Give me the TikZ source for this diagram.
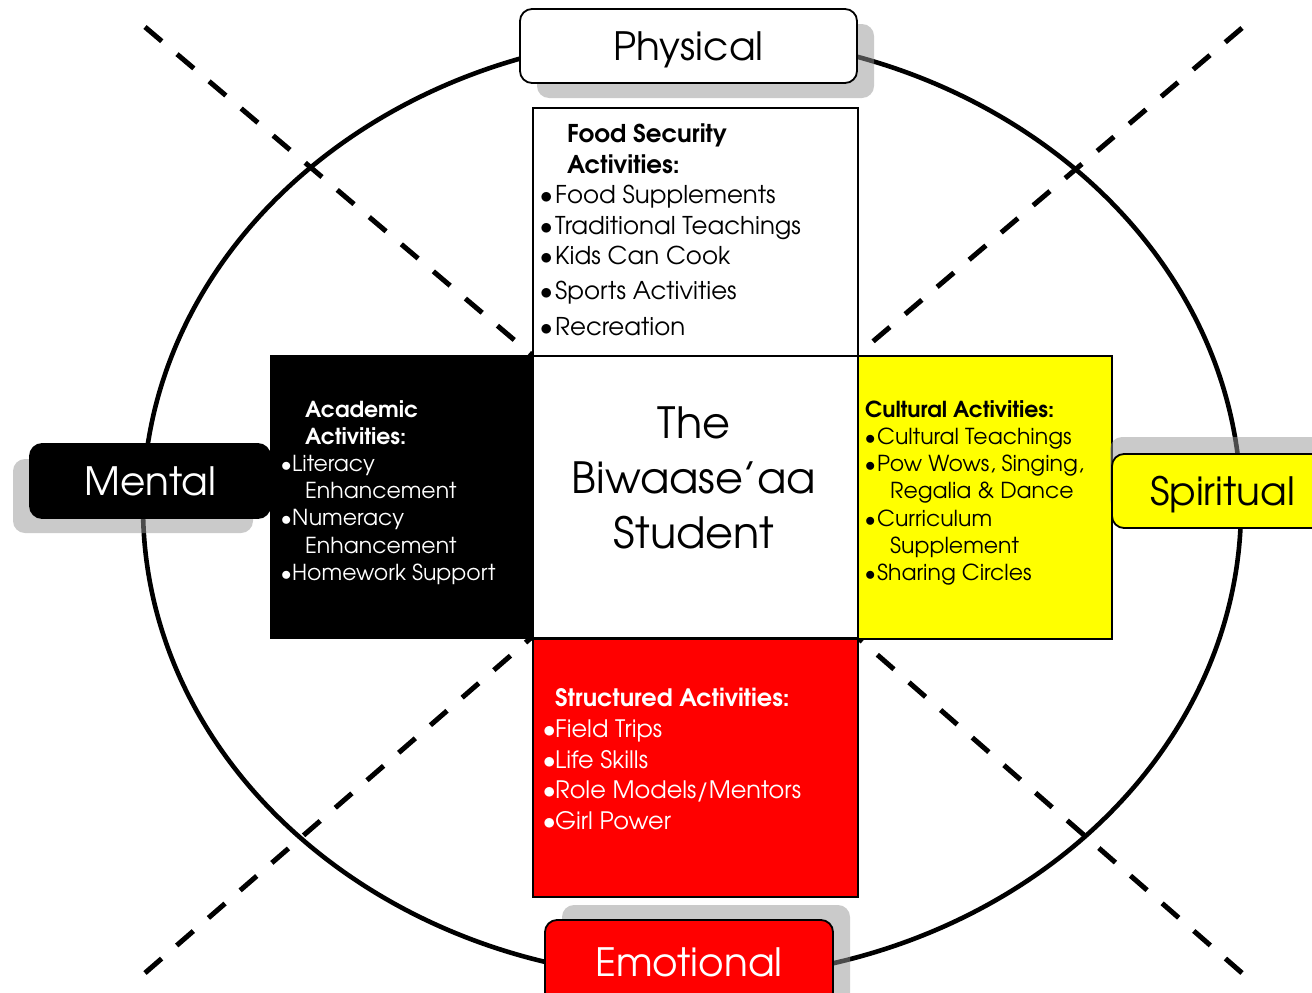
\documentclass[tikz,border=0pt]{standalone}
\usepackage{fontspec}
\setmainfont{texgyreadventor}[Extension=.otf, UprightFont=*-regular, BoldFont=*-bold, ItalicFont=*-italic, BoldItalicFont=*-bolditalic]
\definecolor{myyellow}{RGB}{255,255,0}
\definecolor{myred}{RGB}{255,0,0}
\definecolor{shadowgray}{RGB}{150,150,150}
\tikzset{
  ring/.style={line width=4.6pt},
  dline/.style={line width=5pt, dash pattern=on 22pt off 20pt},
  sq/.style={draw=black, line width=1.8pt, anchor=north west, inner sep=0pt},
  shadowbox/.style={fill=shadowgray, fill opacity=0.5, rounded corners=12pt},
  labelbox/.style={draw=black, line width=1.8pt, rounded corners=12pt, inner sep=0pt, text depth=0pt, font=\fontsize{39}{48}\selectfont},
  body/.style={anchor=north west, inner sep=0pt, align=left},
}
\newcommand{\bul}[1]{\makebox[#1][l]{$\bullet$}}
\begin{document}
\begin{tikzpicture}[x=1pt,y=-1pt]
\useasboundingbox (0,0) rectangle (1312,993);
\fill[white] (0,0) rectangle (1312,993);
% circle
\draw[ring] (692,507) ellipse [x radius=549, y radius=472];
% corner coordinates
\coordinate (c1) at (532,355);
\coordinate (c2) at (857,355);
\coordinate (c3) at (532,637);
\coordinate (c4) at (857,637);
\coordinate (e1) at (145,27);
\coordinate (e2) at (1242,28);
\coordinate (e3) at (145,973);
\coordinate (e4) at (1242,973);
\draw[dline] (e1) -- (c1);
\draw[dline] (e2) -- (c2);
\draw[dline] (e3) -- (c3);
\draw[dline] (e4) -- (c4);
% squares
\node (topbox) [sq, fill=white, minimum width=325pt, minimum height=248pt] at (532,107) {};
\node (leftbox) [sq, fill=black, minimum width=262pt, minimum height=282pt] at (270,355) {};
\node (rightbox) [sq, fill=myyellow, minimum width=254pt, minimum height=283pt] at (857,355) {};
\node (botbox) [sq, fill=myred, minimum width=325pt, minimum height=258pt] at (532,638) {};
\node (cen) [sq, fill=white, minimum width=325pt, minimum height=282pt] at (532,355) {};
% centre text
\node (centext) [align=center, font=\fontsize{43}{55}\selectfont, inner sep=0pt] at (694,478) {The\\Biwaase’aa\\Student};
% top box text
\node (toptext) [body, font=\fontsize{24.5}{30.5}\selectfont] at (540,124) {%
\hspace*{27pt}\textbf{Food Security}\\
\hspace*{27pt}\textbf{Activities:}\\
\bul{15pt}Food Supplements\\
\bul{15pt}Traditional Teachings\\
\bul{15pt}Kids Can Cook\\[4.5pt]
\bul{15pt}Sports Activities\\[5pt]
\bul{15pt}Recreation};
% left box text
\node (lefttext) [body, text=white, font=\fontsize{22}{27.2}\selectfont] at (281,400) {%
\hspace*{24pt}\textbf{Academic}\\
\hspace*{24pt}\textbf{Activities:}\\
\bul{11pt}Literacy\\
\hspace*{24pt}Enhancement\\
\bul{11pt}Numeracy\\
\hspace*{24pt}Enhancement\\
\bul{11pt}Homework Support};
% right box text
\node (righttext) [body, font=\fontsize{22}{27.3}\selectfont] at (865,400) {%
\textbf{Cultural Activities:}\\
\bul{12pt}Cultural Teachings\\
\bul{12pt}Pow Wows, Singing,\\
\hspace*{25pt}Regalia \& Dance\\
\bul{12pt}Curriculum\\
\hspace*{25pt}Supplement\\
\bul{12pt}Sharing Circles};
% bottom box text
\node (bottext) [body, text=white, font=\fontsize{24}{30.7}\selectfont] at (543,688) {%
\hspace*{12pt}\textbf{Structured Activities:}\\
\bul{12pt}Field Trips\\
\bul{12pt}Life Skills\\
\bul{12pt}Role Models/Mentors\\
\bul{12pt}Girl Power};
% label shadows
\fill[shadowbox] (537,24) rectangle (874,98);
\fill[shadowbox] (13,459) rectangle (253,533);
\fill[shadowbox] (1110,437) rectangle (1340,511);
\fill[shadowbox] (562,905) rectangle (850,1010);
% label boxes
\node (phys) [labelbox, fill=white, minimum width=337pt, minimum height=74pt] at (688.5,46) {Physical};
\node (ment) [labelbox, fill=black, text=white, minimum width=240pt, minimum height=74pt] at (150,481) {Mental};
\node (spir) [labelbox, fill=myyellow, minimum width=221pt, minimum height=74pt] at (1222.5,491) {Spiritual};
\node (emo) [labelbox, fill=myred, text=white, minimum width=288pt, minimum height=84pt] at (689,962) {Emotional};
\end{tikzpicture}
\end{document}
